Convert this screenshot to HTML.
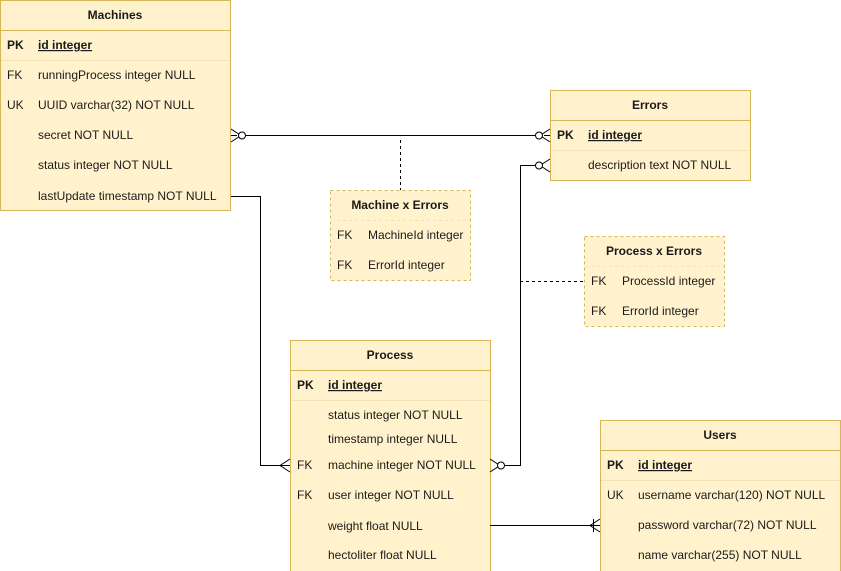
<!DOCTYPE html>
<html><head><meta charset="utf-8"><style>
html,body{margin:0;padding:0;background:#fff;width:841px;height:571px;overflow:hidden}
svg text{font-family:"Liberation Sans",Arial,sans-serif;font-size:12px;fill:#1a1a1a}
.h{font-weight:bold;text-anchor:middle}
.b{font-weight:bold}
</style></head><body>
<svg width="841" height="571" xmlns="http://www.w3.org/2000/svg">
<g fill="#fff2cc" stroke="#d6b656">
<rect x="0.5" y="0.5" width="230" height="210"/>
<rect x="550.5" y="90.5" width="200" height="90"/>
<rect x="290.5" y="340.5" width="200" height="240"/>
<rect x="600.5" y="420.5" width="240" height="160"/>
<rect x="330.5" y="190.5" width="140" height="90" stroke-dasharray="3,3"/>
<rect x="584.5" y="236.5" width="140" height="90" stroke-dasharray="3,3"/>
</g>
<g stroke="#d6b656">
<line x1="0" y1="30.5" x2="231" y2="30.5"/>
<line x1="550" y1="120.5" x2="751" y2="120.5"/>
<line x1="290" y1="370.5" x2="491" y2="370.5"/>
<line x1="600" y1="450.5" x2="841" y2="450.5"/>
</g>
<g stroke="#f3e3b5">
<line x1="1" y1="60.5" x2="230" y2="60.5"/>
<line x1="551" y1="150.5" x2="750" y2="150.5"/>
<line x1="291" y1="400.5" x2="490" y2="400.5"/>
<line x1="601" y1="480.5" x2="840" y2="480.5"/>
<line x1="331" y1="220.5" x2="470" y2="220.5" stroke-dasharray="3,3"/>
<line x1="585" y1="266.5" x2="724" y2="266.5" stroke-dasharray="3,3"/>
</g>
<!-- Machines -->
<text class="h" x="115" y="19">Machines</text>
<text class="b" x="7" y="49">PK</text><text class="b" x="38" y="49" text-decoration="underline">id integer</text>
<text x="7" y="79">FK</text><text x="38" y="79">runningProcess integer NULL</text>
<text x="7" y="109">UK</text><text x="38" y="109">UUID varchar(32) NOT NULL</text>
<text x="38" y="139">secret NOT NULL</text>
<text x="38" y="169">status integer NOT NULL</text>
<text x="38" y="200">lastUpdate timestamp NOT NULL</text>
<!-- Errors -->
<text class="h" x="650" y="109">Errors</text>
<text class="b" x="557" y="139">PK</text><text class="b" x="588" y="139" text-decoration="underline">id integer</text>
<text x="588" y="169">description text NOT NULL</text>
<!-- Machine x Errors -->
<text class="h" x="400" y="209">Machine x Errors</text>
<text x="337" y="239">FK</text><text x="368" y="239">MachineId integer</text>
<text x="337" y="269">FK</text><text x="368" y="269">ErrorId integer</text>
<!-- Process x Errors -->
<text class="h" x="654" y="255">Process x Errors</text>
<text x="591" y="285">FK</text><text x="622" y="285">ProcessId integer</text>
<text x="591" y="315">FK</text><text x="622" y="315">ErrorId integer</text>
<!-- Process -->
<text class="h" x="390" y="359">Process</text>
<text class="b" x="297" y="389">PK</text><text class="b" x="328" y="389" text-decoration="underline">id integer</text>
<text x="328" y="419">status integer NOT NULL</text>
<text x="328" y="443">timestamp integer NULL</text>
<text x="297" y="469">FK</text><text x="328" y="469">machine integer NOT NULL</text>
<text x="297" y="499">FK</text><text x="328" y="499">user integer NOT NULL</text>
<text x="328" y="530">weight float NULL</text>
<text x="328" y="559">hectoliter float NULL</text>
<!-- Users -->
<text class="h" x="720" y="439">Users</text>
<text class="b" x="607" y="469">PK</text><text class="b" x="638" y="469" text-decoration="underline">id integer</text>
<text x="607" y="499">UK</text><text x="638" y="499">username varchar(120) NOT NULL</text>
<text x="638" y="529">password varchar(72) NOT NULL</text>
<text x="638" y="559">name varchar(255) NOT NULL</text>
<!-- connectors -->
<g stroke="#000" fill="none" stroke-width="1">
<path d="M245.5 135.5H536"/>
<path d="M231 129L241 135.5L231 142M231 135.5H237"/>
<circle cx="242" cy="135.5" r="3.5" fill="#fff"/>
<path d="M550 129L540 135.5L550 142M544 135.5H550"/>
<circle cx="539" cy="135.5" r="3.5" fill="#fff"/>
<path d="M400.5 140V190" stroke-dasharray="3,3"/>
<path d="M231 196.5H260.5V465.5H290"/>
<path d="M290 459L280 465.5L290 472"/>
<path d="M504 465.5H520.5V165.5H536"/>
<path d="M490 459L500 465.5L490 472"/>
<circle cx="501" cy="465.5" r="3.5" fill="#fff"/>
<path d="M550 159L540 165.5L550 172"/>
<circle cx="539" cy="165.5" r="3.5" fill="#fff"/>
<path d="M520 281.5H584" stroke-dasharray="3,3"/>
<path d="M490 525.5H600"/>
<path d="M600 519L590 525.5L600 532M593.5 519V532"/>
</g>
</svg>
</body></html>
